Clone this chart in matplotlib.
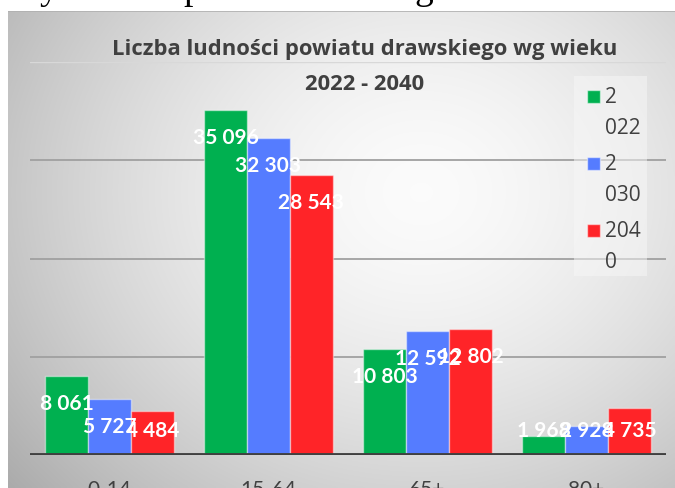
import numpy as np
import matplotlib
matplotlib.use("Agg")
import matplotlib.pyplot as plt

categories = ["0-14", "15-64", "65+", "80+"]
series_names = ["2\n022", "2\n030", "204\n0"]
v2022 = [8061, 35096, 10803, 1968]
v2030 = [5727, 32303, 12592, 2928]
v2040 = [4484, 28543, 12802, 4735]
labels2022 = ["8 061", "35 096", "10 803", "1 968"]
labels2030 = ["5 727", "32 303", "12 592", "2 928"]
labels2040 = ["4 484", "28 543", "12 802", "4 735"]
title1 = "Liczba ludności powiatu drawskiego wg wieku"
title2 = "2022 - 2040"

colors = ["#00B050", "#557CFF", "#FF2428"]
W, H = 675, 489
fig = plt.figure(figsize=(W / 100, H / 100), dpi=100)
fig.patch.set_facecolor("white")

# background gradient panel
bg = fig.add_axes([8 / W, 0, 1 - 8 / W, (H - 12) / H])
bg.set_axis_off()
ny, nx = 200, 300
yy, xx = np.mgrid[0:1:ny * 1j, 0:1:nx * 1j]
r = np.sqrt(((xx - 0.62) / 0.75) ** 2 + ((yy - 0.62) / 0.9) ** 2)
val = 0.985 - 0.28 * np.clip(r, 0, 1.3) ** 1.6
img = np.dstack([val, val, val])
bg.imshow(img, aspect="auto", extent=[0, 1, 0, 1], origin="lower", interpolation="bilinear")
bg.axhline(1, color="#b0b0b0", lw=1.2)

# top serif fragments of document text
for ch, xp in [("y", 40), ("p", 183), ("g", 414)]:
    fig.text(xp / W, 1 + 1 / H, ch, fontsize=27, family="Liberation Serif",
             color="black", va="baseline", ha="left")

ax = fig.add_axes([30 / W, 33 / H, 636 / W, (456 - 63) / H])
ax.set_facecolor("none")
ax.set_xlim(-0.5, 3.5)
ax.set_ylim(0, 40000)
x = np.arange(len(categories))
bw = 0.27
for i, (vals, labs) in enumerate(zip([v2022, v2030, v2040], [labels2022, labels2030, labels2040])):
    xs = x + (i - 1) * bw
    ax.bar(xs, vals, width=bw, color=colors[i], edgecolor=(1, 1, 1, 0.45), linewidth=1.0,
           label=series_names[i], zorder=3 + i)
    for xi, v, lab in zip(xs, vals, labs):
        ax.text(xi, max(v - 2750, 2550), lab, ha="center", va="center", color="white",
                fontsize=15, fontweight="bold", family="Lato", zorder=10 + i)

for gy in [10000, 20000, 30000]:
    ax.axhline(gy, color="#a0a0a0", lw=1.3, zorder=1)
ax.axhline(40000, color="#d8d8d8", lw=1.0, zorder=1)
ax.axhline(0, color="#404040", lw=3.5, zorder=8)

for s in ax.spines.values():
    s.set_visible(False)
ax.set_yticks([])
ax.set_xticks(x)
ax.set_xticklabels(categories, fontsize=15, color="#404040", family="Lato")
ax.tick_params(axis="x", length=0, pad=17)

fig.text(365 / W, 1 - 50 / H, title1, ha="center", va="center", fontsize=15.8,
         fontweight="bold", color="#404040", family="Open Sans")
fig.text(365 / W, 1 - 85 / H, title2, ha="center", va="center", fontsize=15.8,
         fontweight="bold", color="#404040", family="Open Sans")

# legend box
lax = fig.add_axes([574 / W, (H - 277) / H, 73 / W, 200 / H])
lax.set_xlim(0, 73)
lax.set_ylim(200, 0)
lax.set_axis_off()
lax.add_patch(plt.Rectangle((0, 0), 73, 200, facecolor=(0.97, 0.97, 0.97, 0.5), edgecolor="none"))
for i, name in enumerate(series_names):
    top = 14 + i * 67
    lax.add_patch(plt.Rectangle((13, top), 13, 13, facecolor=colors[i],
                                edgecolor=(1, 1, 1, 0.5), lw=1))
    lax.text(31, top - 4, name, ha="left", va="top", fontsize=15, color="#404040",
             family="Open Sans", linespacing=1.6)

fig.savefig("out.png", dpi=100)
